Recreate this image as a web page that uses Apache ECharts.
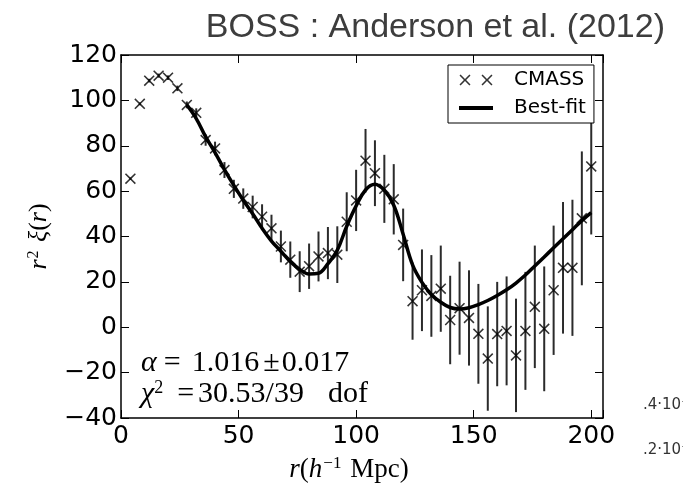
<!DOCTYPE html>
<html>
<head>
<meta charset="utf-8">
<script src="https://cdn.jsdelivr.net/npm/echarts@6/dist/echarts.min.js"></script>
<style>html,body{margin:0;padding:0;background:#fff;}#c{width:683px;height:488px;}</style>
</head>
<body>
<div id="c"></div>
<script>
// CMASS data: separation r (h^-1 Mpc), r^2 xi(r), 1-sigma error
var rValues = [4,8,12,16,20,24,28,32,36,40,44,48,52,56,60,64,68,72,76,80,84,88,92,96,100,104,108,112,116,120,124,128,132,136,140,144,148,152,156,160,164,168,172,176,180,184,188,192,196,200];
var xiValues = [65.5,98.5,108.7,110.9,110.0,105.3,98.0,94.5,82.5,78.8,69.3,61.0,56.7,53.0,48.7,43.6,35.6,29.8,24.5,26.9,31.2,32.7,32.0,46.5,55.9,73.4,67.9,61.0,56.4,36.3,11.5,16.3,13.8,17.0,3.2,8.4,4.1,-2.9,-13.8,-3.0,-1.6,-12.4,-1.6,9.0,-0.7,16.3,26.2,26.2,48.0,70.9];
var xiErrors = [0.5,0.6,0.8,0.9,1.0,1.2,1.5,2.0,2.5,3.0,3.5,4.0,4.5,5.0,5.5,6.0,7.0,8.0,9.0,10.0,11.0,11.5,12.5,13.0,13.5,14.0,14.5,15.0,15.5,16.0,17.0,18.0,18.0,19.0,19.5,20.5,21.0,22.0,23.0,23.0,24.0,25.0,26.0,27.0,27.5,28.5,29.0,30.0,29.5,30.0];
// Best-fit model
var fitR = [28,32,36,40,44,48,52,56,60,64,68,72,76,80,84,88,92,96,100,104,108,112,116,120,124,128,132,136,140,144,148,152,156,160,164,168,172,176,180,184,188,192,196,200];
var fitValues = [98,92,84,77,69.5,62.5,56,50,43.6,38,33.5,29,25.5,23.5,23.8,28,34,44.5,53.5,60.5,63,60.3,53.8,41,27.5,19.8,14.5,11,8.7,8,8.6,10,11.8,14,16.5,19.5,23,27,31,35,39,43,47,50.5];
var xTicks = [0,50,100,150,200];
var yTicks = [-40,-20,0,20,40,60,80,100,120];

var pts = rValues.map(function(r,i){return [r, xiValues[i]];});
var bars = rValues.map(function(r,i){return [r, xiValues[i]-xiErrors[i], xiValues[i]+xiErrors[i]];});
var fit = fitR.map(function(r,i){return [r, fitValues[i]];});

var crossPath = 'path://M0,1L1,0L5,4L9,0L10,1L6,5L10,9L9,10L5,6L1,10L0,9L4,5Z';
var crossPair = 'path://M0,1L1,0L5,4L9,0L10,1L6,5L10,9L9,10L5,6L1,10L0,9L4,5Z M20,1L21,0L25,4L29,0L30,1L26,5L30,9L29,10L25,6L21,10L20,9L24,5Z';
var linePath = 'path://M0,0 M0,3.6L34,3.6L34,7.4L0,7.4Z M34,11';

var axisLineStyle = {show:true, onZero:false, lineStyle:{color:'#000', width:1.5}};
var tickStyle = {show:true, inside:true, length:8, lineStyle:{color:'#000', width:1}};
var labelFont = {fontSize:25, fontFamily:'DejaVu Sans', color:'#000'};
var serif = 'Liberation Serif';

var chart = echarts.init(document.getElementById('c'));
chart.setOption({
  animation:false,
  backgroundColor:'#fff',
  title:{text:'BOSS : Anderson et al. (2012)', right:13, top:6,
    textStyle:{fontFamily:'Liberation Sans', fontSize:34, fontWeight:'normal', color:'#3d3d3d'}},
  grid:{left:121, right:80, top:55, bottom:66, containLabel:false},
  legend:{
    left:448, top:65, orient:'vertical', backgroundColor:'#fff',
    borderColor:'#000', borderWidth:1, borderRadius:0,
    padding:[5,8,5,11], itemGap:8, itemWidth:34, itemHeight:11,
    data:[{name:'CMASS', icon:crossPair},{name:'Best-fit', icon:linePath}],
    formatter:function(n){return '{t|'+n+'}';},
    textStyle:{color:'#000', fontFamily:'DejaVu Sans', fontSize:20,
      rich:{t:{fontFamily:'DejaVu Sans', fontSize:20, color:'#000', padding:[0,0,0,16]}}}
  },
  xAxis:[
    {type:'value', min:0, max:205, interval:50, position:'bottom',
     axisLine:axisLineStyle, axisTick:tickStyle, splitLine:{show:false},
     axisLabel:Object.assign({margin:6, formatter:function(v){return xTicks.indexOf(v)>=0 ? String(v) : '';}}, labelFont),
     name:'{i|r}({i|h}{s|−1} Mpc)', nameLocation:'middle', nameGap:37,
     nameTextStyle:{fontFamily:serif, fontSize:27, color:'#000', padding:[0,26,0,0],
       rich:{i:{fontFamily:serif, fontStyle:'italic', fontSize:27, color:'#000'},
             s:{fontFamily:serif, fontSize:17, color:'#000', verticalAlign:'top', padding:[0,2,12,1]}}}},
    {type:'value', min:0, max:205, interval:50, position:'top',
     axisLine:axisLineStyle, axisTick:tickStyle, axisLabel:{show:false}, splitLine:{show:false}}
  ],
  yAxis:[
    {type:'value', min:-40, max:120, interval:20, position:'left',
     axisLine:axisLineStyle, axisTick:tickStyle, splitLine:{show:false},
     axisLabel:Object.assign({margin:4, formatter:function(v){return yTicks.indexOf(v)>=0 ? String(v).replace('-', '\u2212') : '';}}, labelFont),
     name:'{i|r}{s|2} {i|ξ}({i|r})', nameLocation:'middle', nameGap:69, nameRotate:90,
     nameTextStyle:{fontFamily:serif, fontSize:26, color:'#000',
       rich:{i:{fontFamily:serif, fontStyle:'italic', fontSize:26, color:'#000'},
             s:{fontFamily:serif, fontSize:16, color:'#000', verticalAlign:'top', padding:[0,2,10,1]}}}},
    {type:'value', min:-40, max:120, interval:20, position:'right',
     axisLine:axisLineStyle, axisTick:tickStyle, axisLabel:{show:false}, splitLine:{show:false}}
  ],
  series:[
    {type:'custom', name:'errors', xAxisIndex:0, yAxisIndex:0, data:bars, z:2,
     encode:{x:0, y:[1,2]},
     renderItem:function(params, api){
       var x = api.value(0);
       var lo = api.coord([x, api.value(1)]);
       var hi = api.coord([x, api.value(2)]);
       return {type:'line', shape:{x1:lo[0], y1:lo[1], x2:hi[0], y2:hi[1]},
               style:{stroke:'#2b2b2b', lineWidth:2}};
     }},
    {type:'scatter', name:'CMASS', data:pts, symbol:crossPath, symbolSize:11, z:3,
     itemStyle:{color:'#000'}},
    {type:'line', name:'Best-fit', data:fit, smooth:0.4, showSymbol:false, symbol:'none', z:4,
     lineStyle:{color:'#000', width:3.5}, itemStyle:{color:'#000'}}
  ],
  graphic:[
    {type:'text', left:141, top:348, z:10, style:{
      text:'{i|α}{o|=}1.016{p|±}0.017', fill:'#000',
      font:'30px "Liberation Serif"',
      rich:{i:{fontFamily:serif, fontStyle:'italic', fontSize:30, fill:'#000'},
            o:{fontFamily:serif, fontSize:30, fill:'#000', padding:[0,11,0,7]},
            p:{fontFamily:serif, fontSize:30, fill:'#000', padding:[0,2,0,4]}}}},
    {type:'text', left:141, top:379, z:10, style:{
      text:'{i|χ}{s|2}{o|=}30.53/39{d|dof}', fill:'#000',
      font:'30px "Liberation Serif"',
      rich:{i:{fontFamily:serif, fontStyle:'italic', fontSize:30, fill:'#000'},
            s:{fontFamily:serif, fontSize:18, fill:'#000', verticalAlign:'top'},
            o:{fontFamily:serif, fontSize:30, fill:'#000', padding:[0,4,0,14]},
            d:{fontFamily:serif, fontSize:30, fill:'#000', padding:[0,0,0,24]}}}},
    {type:'text', left:643, top:398, style:{text:'.4·10⁻', fill:'#333', font:'15px "DejaVu Sans"'}},
    {type:'text', left:643, top:443, style:{text:'.2·10⁻', fill:'#333', font:'15px "DejaVu Sans"'}}
  ]
});
</script>
</body>
</html>
